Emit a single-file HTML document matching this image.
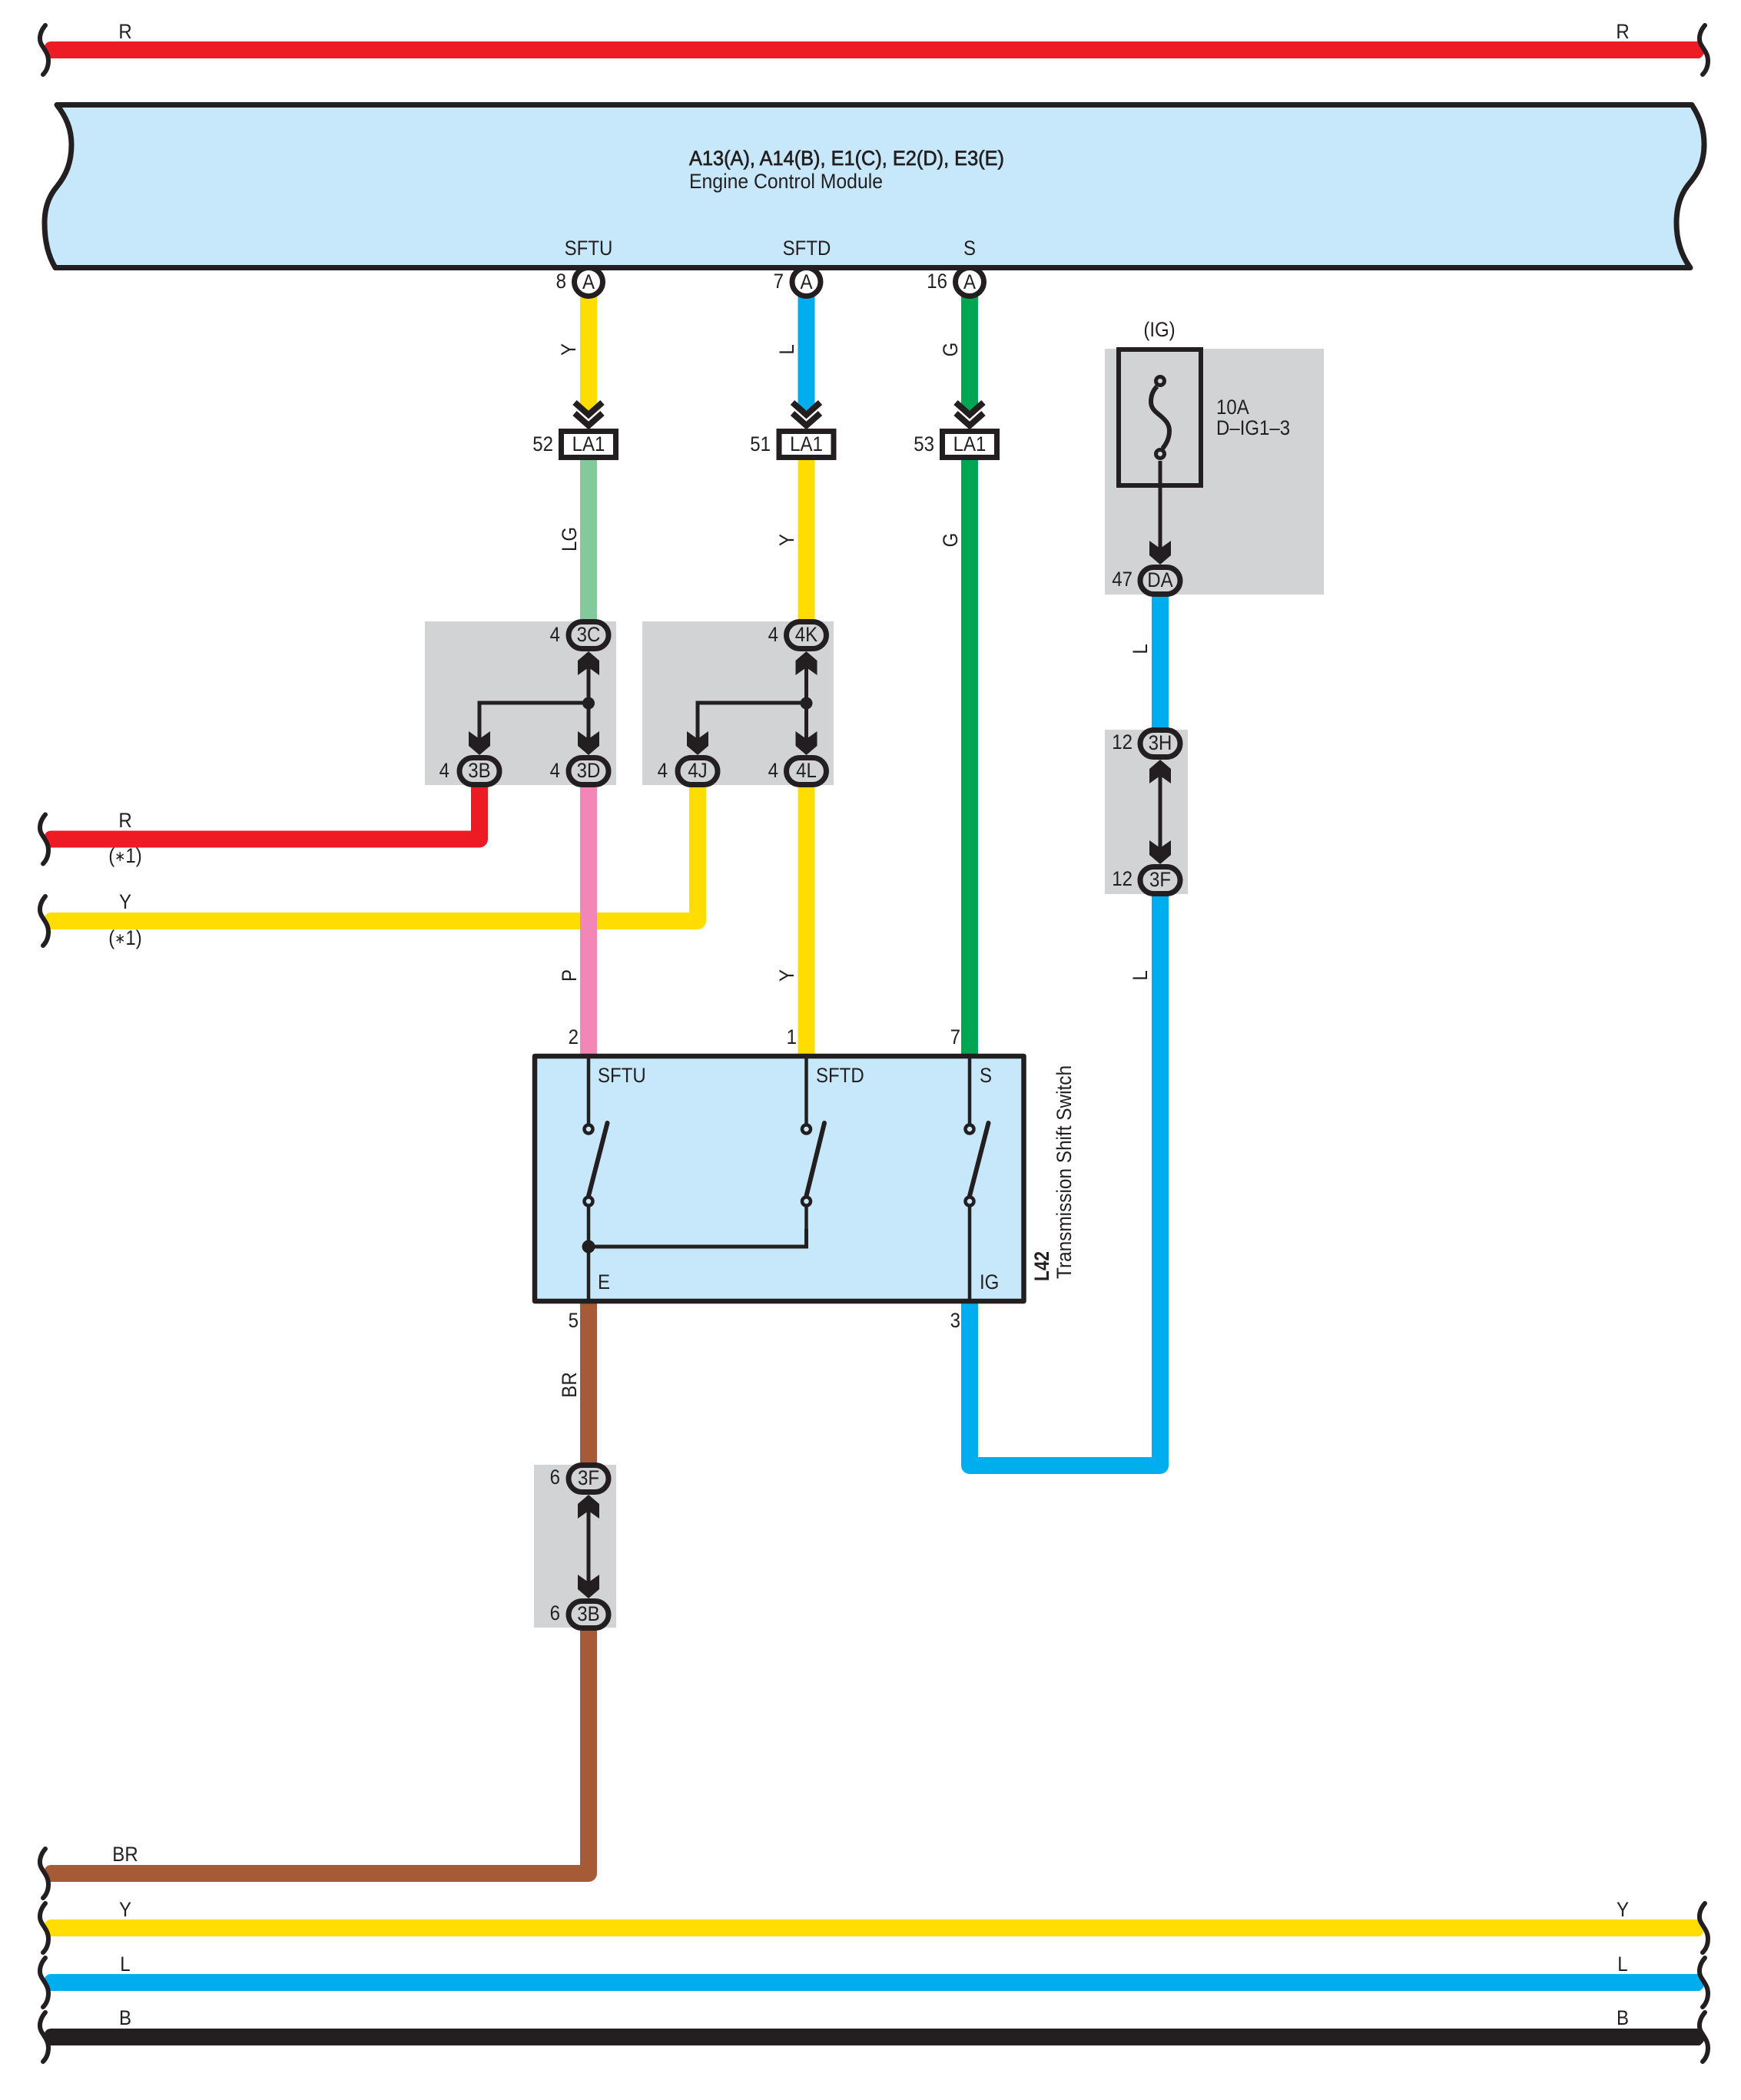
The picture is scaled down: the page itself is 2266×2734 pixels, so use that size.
<!DOCTYPE html>
<html><head><meta charset="utf-8"><style>
html,body{margin:0;padding:0;background:#fff}
svg{display:block}
text{font-family:"Liberation Sans",Arial,"DejaVu Sans",sans-serif;font-size:27px;fill:#231F20}
.c,.r,.l{transform-box:fill-box;transform:scaleX(.89)}
.c{text-anchor:middle;transform-origin:center center}
.r{text-anchor:end;transform-origin:right center}
.l{text-anchor:start;transform-origin:left center}
.w{fill:none;stroke-width:22;stroke-linejoin:round}
.t{fill:none;stroke:#231F20;stroke-width:4.5}
.h{fill:none;stroke:#231F20;stroke-width:6;stroke-linecap:round}
.v{fill:#C7E8FA;stroke:#231F20;stroke-width:4.5}
</style></head><body>
<svg xmlns="http://www.w3.org/2000/svg" width="2266" height="2734" viewBox="0 0 2266 2734">
<defs>
<path id="br" d="M59 -32C52 -24 50 -14 54 -7C58 0 63 5 63 14C63 22 60 28 56 32" fill="none" stroke="#231F20" stroke-width="6" stroke-linecap="round"/>
<path id="lc" d="M67 -11Q60 -11 58 -5L64 11H67Z"/>
<path id="rc" d="M2210 -11H2213L2219 2Q2217 8 2212 11H2210Z"/>
<rect id="cn" x="-26" y="-17.5" width="52" height="35" rx="17.5" fill="#D1D3D4" stroke="#231F20" stroke-width="7"/>
<polygon id="ad" points="0,0 14,-12 14,-31 0,-21 -14,-31 -14,-12" fill="#231F20"/>
<polygon id="au" points="0,0 14,12 14,31 0,21 -14,31 -14,12" fill="#231F20"/>
<g id="lb"><rect x="-35.5" y="-17" width="71" height="34" fill="#fff" stroke="#231F20" stroke-width="7"/></g>
<path id="cv" d="M-18 -40L0 -24L18 -40M-18 -26L0 -10L18 -26" fill="none" stroke="#231F20" stroke-width="8"/>
</defs>

<!-- gray regions -->
<rect x="553" y="809" width="249" height="213" fill="#D1D3D4"/>
<rect x="836" y="809" width="249" height="213" fill="#D1D3D4"/>
<rect x="1438" y="454" width="285" height="320" fill="#D1D3D4"/>
<rect x="1438" y="950" width="108" height="214" fill="#D1D3D4"/>
<rect x="695" y="1907" width="107" height="212" fill="#D1D3D4"/>

<!-- buses -->
<g fill="#ED1C24"><rect x="66" y="54" width="2146" height="22"/><use href="#lc" y="65"/><use href="#rc" y="65"/></g>
<g fill="#FFDD00"><rect x="66" y="2499" width="2146" height="22"/><use href="#lc" y="2510"/><use href="#rc" y="2510"/></g>
<g fill="#00AEEF"><rect x="66" y="2570" width="2146" height="22"/><use href="#lc" y="2581"/><use href="#rc" y="2581"/></g>
<g fill="#231F20"><rect x="66" y="2641" width="2146" height="22"/><use href="#lc" y="2652"/><use href="#rc" y="2652"/></g>
<use href="#lc" y="1092.5" fill="#ED1C24"/>
<use href="#lc" y="1199" fill="#FFDD00"/>
<use href="#lc" y="2439" fill="#A65A35"/>

<!-- wires -->
<path class="w" stroke="#FFDD00" d="M766 385V534"/>
<path class="w" stroke="#00AEEF" d="M1049.5 385V534"/>
<path class="w" stroke="#00A651" d="M1262 385V534"/>
<path class="w" stroke="#82CA9C" d="M766 597V808"/>
<path class="w" stroke="#FFDD00" d="M1049.5 597V808"/>
<path class="w" stroke="#00A651" d="M1262 597V1374"/>
<path class="w" stroke="#ED1C24" d="M66 1092.5H624V1022"/>
<path class="w" stroke="#FFDD00" d="M66 1199H908V1022"/>
<path class="w" stroke="#F287B7" d="M766 1022V1374"/>
<path class="w" stroke="#FFDD00" d="M1049.5 1022V1374"/>
<path class="w" stroke="#A65A35" d="M766 1696V1906"/>
<path class="w" stroke="#A65A35" d="M766 2120V2439H66"/>
<path class="w" stroke="#00AEEF" d="M1262 1696V1908H1510V1165"/>
<path class="w" stroke="#00AEEF" d="M1510 775V950"/>

<!-- brackets -->
<use href="#br" y="65"/><use href="#br" x="2160" y="65"/>
<use href="#br" y="1092.5"/><use href="#br" y="1199"/>
<use href="#br" y="2439"/><use href="#br" y="2510"/><use href="#br" y="2581"/><use href="#br" y="2652"/>
<use href="#br" x="2160" y="2510"/><use href="#br" x="2160" y="2581"/><use href="#br" x="2160" y="2652"/>

<!-- A circles -->
<g fill="#fff" stroke="#231F20" stroke-width="7">
<circle cx="766" cy="367" r="18.5"/><circle cx="1049.5" cy="367" r="18.5"/><circle cx="1262" cy="367" r="18.5"/>
</g>

<!-- ECM -->
<path d="M74 136.5H2202C2214 155 2218 170 2218 188C2218 212 2210 226 2197 241C2187 254 2182 270 2182 290C2182 312 2188 332 2200 348.5H72C62 332 58 312 58 290C58 272 63 256 74 243C86 228 93 212 93 188C93 168 86 152 74 136.5Z" fill="#C7E8FA" stroke="#231F20" stroke-width="7" stroke-linejoin="round"/>

<!-- chevrons and LA1 -->
<use href="#cv" x="766" y="564"/><use href="#cv" x="1049.5" y="564"/><use href="#cv" x="1262" y="564"/>
<use href="#lb" x="766" y="578.5"/><use href="#lb" x="1049.5" y="578.5"/><use href="#lb" x="1262" y="578.5"/>

<!-- junction groups -->
<path class="t" style="stroke-width:5" d="M766 866V966M766 915H624V966M1049.5 866V966M1049.5 915H908V966M1510 1008V1110M766 1965V2066M1510 600V720"/>
<circle cx="766" cy="915.5" r="8" fill="#231F20"/><circle cx="1049.5" cy="915.5" r="8" fill="#231F20"/>
<use href="#au" x="766" y="848"/><use href="#ad" x="766" y="983"/><use href="#ad" x="624" y="983"/>
<use href="#au" x="1049.5" y="848"/><use href="#ad" x="1049.5" y="983"/><use href="#ad" x="908" y="983"/>
<use href="#au" x="1510" y="989"/><use href="#ad" x="1510" y="1125"/>
<use href="#au" x="766" y="1946"/><use href="#ad" x="766" y="2081"/>
<use href="#ad" x="1510" y="735"/>
<use href="#cn" x="766" y="827"/><use href="#cn" x="766" y="1004"/><use href="#cn" x="624" y="1004"/>
<use href="#cn" x="1049.5" y="827"/><use href="#cn" x="1049.5" y="1004"/><use href="#cn" x="908" y="1004"/>
<use href="#cn" x="1510" y="756"/><use href="#cn" x="1510" y="968"/><use href="#cn" x="1510" y="1146"/>
<use href="#cn" x="766" y="1925"/><use href="#cn" x="766" y="2102"/>

<!-- fuse -->
<rect x="1456" y="455" width="107" height="177" fill="none" stroke="#231F20" stroke-width="6"/>
<path d="M1506 503C1500 509 1498 516 1498 523C1498 532 1504 536 1510 541C1517 547 1522 552 1522 561C1522 570 1518 578 1513 584" fill="none" stroke="#231F20" stroke-width="6"/>
<circle cx="1510" cy="496" r="5.5" fill="#D1D3D4" stroke="#231F20" stroke-width="5"/>
<circle cx="1510" cy="591" r="5.5" fill="#D1D3D4" stroke="#231F20" stroke-width="5"/>

<!-- switch -->
<rect x="696" y="1375" width="636.5" height="319" fill="#C7E8FA" stroke="#231F20" stroke-width="6.5" stroke-linejoin="round"/>
<path class="t" d="M766 1378V1470M766 1564V1691M1049.5 1378V1470M1049.5 1564V1623M1262 1378V1470M1262 1564V1691"/>
<path class="t" style="stroke-width:5" d="M766 1623H1049.5V1600"/>
<circle cx="766" cy="1623" r="8.5" fill="#231F20"/>
<path class="h" d="M766 1557L790.5 1462M1049.5 1557L1073 1462M1262 1557L1286.5 1462"/>
<circle class="v" cx="766" cy="1470" r="5.5"/><circle class="v" cx="766" cy="1564" r="5.5"/>
<circle class="v" cx="1049.5" cy="1470" r="5.5"/><circle class="v" cx="1049.5" cy="1564" r="5.5"/>
<circle class="v" cx="1262" cy="1470" r="5.5"/><circle class="v" cx="1262" cy="1564" r="5.5"/>

<!-- text: buses -->
<text class="c" x="163" y="50">R</text>
<text class="c" x="2112" y="50">R</text>
<text class="c" x="163" y="1077">R</text>
<text class="c" x="163" y="1123">(<tspan style="font-size:19px" dy="-2">∗</tspan><tspan dy="2">1)</tspan></text>
<text class="c" x="163" y="1183">Y</text>
<text class="c" x="163" y="1230">(<tspan style="font-size:19px" dy="-2">∗</tspan><tspan dy="2">1)</tspan></text>
<text class="c" x="163" y="2423">BR</text>
<text class="c" x="163" y="2495">Y</text>
<text class="c" x="2112" y="2495">Y</text>
<text class="c" x="163" y="2566">L</text>
<text class="c" x="2112" y="2566">L</text>
<text class="c" x="163" y="2636">B</text>
<text class="c" x="2112" y="2636">B</text>

<!-- text: ECM -->
<text x="897" y="215" textLength="410" lengthAdjust="spacingAndGlyphs" style="stroke:#231F20;stroke-width:.7">A13(A), A14(B), E1(C), E2(D), E3(E)</text>
<text x="897" y="245" textLength="252" lengthAdjust="spacingAndGlyphs">Engine Control Module</text>
<text class="c" x="766" y="332">SFTU</text>
<text class="c" x="1050" y="332">SFTD</text>
<text class="c" x="1262" y="332">S</text>
<text class="c" x="766" y="376">A</text>
<text class="c" x="1049.5" y="376">A</text>
<text class="c" x="1262" y="376">A</text>
<text class="r" x="737" y="375">8</text>
<text class="r" x="1020" y="375">7</text>
<text class="r" x="1233" y="375">16</text>
<text class="c" x="766" y="587">LA1</text>
<text class="c" x="1049.5" y="587">LA1</text>
<text class="c" x="1262" y="587">LA1</text>
<text class="r" x="720" y="587">52</text>
<text class="r" x="1003" y="587">51</text>
<text class="r" x="1216" y="587">53</text>

<!-- text: rotated wire labels -->
<g transform="translate(749,455) rotate(-90)"><text class="c">Y</text></g>
<g transform="translate(1033,455) rotate(-90)"><text class="c">L</text></g>
<g transform="translate(1246,455) rotate(-90)"><text class="c">G</text></g>
<g transform="translate(750,702) rotate(-90)"><text class="c">LG</text></g>
<g transform="translate(1033,703) rotate(-90)"><text class="c">Y</text></g>
<g transform="translate(1246,703) rotate(-90)"><text class="c">G</text></g>
<g transform="translate(750,1270) rotate(-90)"><text class="c">P</text></g>
<g transform="translate(1033,1270) rotate(-90)"><text class="c">Y</text></g>
<g transform="translate(750,1803) rotate(-90)"><text class="c">BR</text></g>
<g transform="translate(1493,845) rotate(-90)"><text class="c">L</text></g>
<g transform="translate(1493,1270) rotate(-90)"><text class="c">L</text></g>

<!-- text: connectors -->
<text class="c" x="766" y="835">3C</text>
<text class="c" x="766" y="1012">3D</text>
<text class="c" x="624" y="1012">3B</text>
<text class="c" x="1049.5" y="835">4K</text>
<text class="c" x="1049.5" y="1012">4L</text>
<text class="c" x="908" y="1012">4J</text>
<text class="r" x="729" y="835">4</text>
<text class="r" x="729" y="1012">4</text>
<text class="r" x="585" y="1012">4</text>
<text class="r" x="1013" y="835">4</text>
<text class="r" x="1013" y="1012">4</text>
<text class="r" x="869" y="1012">4</text>
<text class="c" x="1510" y="764">DA</text>
<text class="r" x="1474" y="763">47</text>
<text class="c" x="1510" y="976">3H</text>
<text class="r" x="1474" y="975">12</text>
<text class="c" x="1510" y="1154">3F</text>
<text class="r" x="1474" y="1153">12</text>
<text class="c" x="766" y="1933">3F</text>
<text class="r" x="729" y="1932">6</text>
<text class="c" x="766" y="2110">3B</text>
<text class="r" x="729" y="2109">6</text>

<!-- text: fuse -->
<text class="c" x="1509" y="438">(IG)</text>
<text class="l" x="1583" y="539">10A</text>
<text class="l" x="1583" y="566">D–IG1–3</text>

<!-- text: switch -->
<text class="l" x="778" y="1409">SFTU</text>
<text class="l" x="1062" y="1409">SFTD</text>
<text class="l" x="1275" y="1409">S</text>
<text class="l" x="778" y="1678">E</text>
<text class="l" x="1275" y="1678">IG</text>
<text class="r" x="753" y="1359">2</text>
<text class="r" x="1037" y="1359">1</text>
<text class="r" x="1250" y="1359">7</text>
<text class="r" x="753" y="1728">5</text>
<text class="r" x="1250" y="1728">3</text>
<g transform="translate(1394,1665) rotate(-90)"><text x="0" y="0" textLength="278" lengthAdjust="spacingAndGlyphs">Transmission Shift Switch</text></g>
<g transform="translate(1365,1668) rotate(-90)"><text x="0" y="0" textLength="39" lengthAdjust="spacingAndGlyphs" font-weight="bold">L42</text></g>
</svg>
</body></html>
